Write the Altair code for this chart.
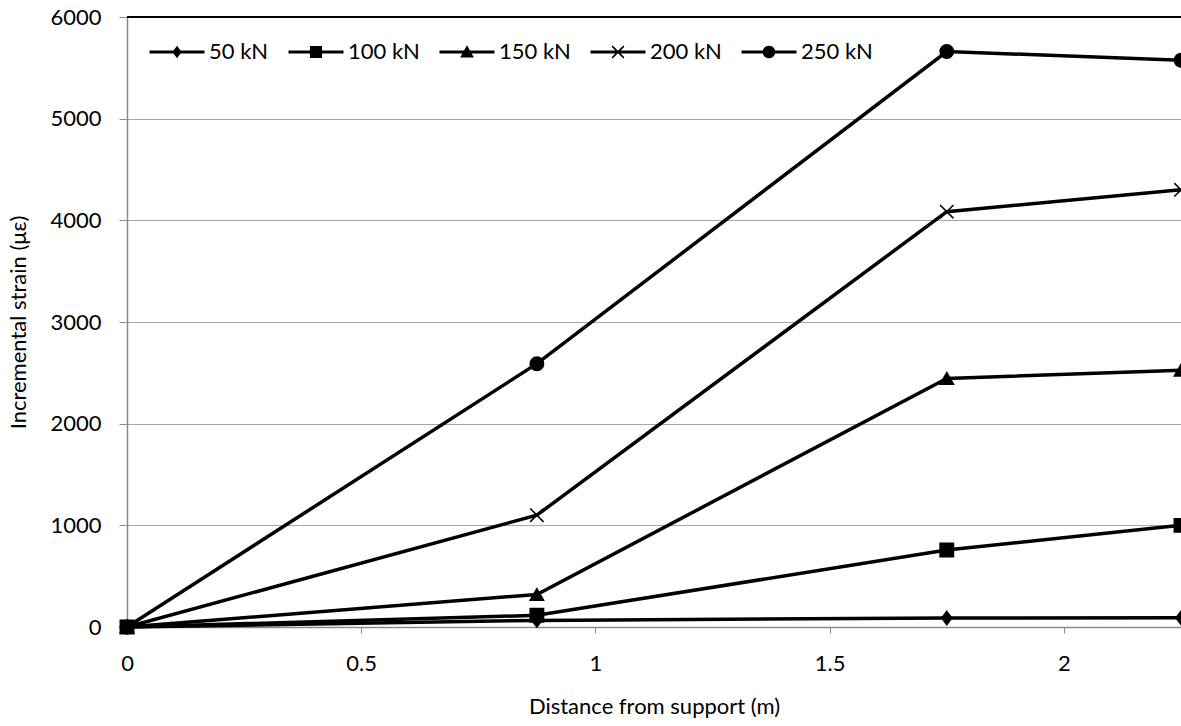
import altair as alt
import pandas as pd

# Measured strain increments along the beam for each load step
distance = [0, 0.875, 1.75, 2.25]
loads = ["50 kN", "100 kN", "150 kN", "200 kN", "250 kN"]
strain_50 = [0, 65, 88, 90]
strain_100 = [0, 115, 757, 1000]
strain_150 = [0, 320, 2445, 2525]
strain_200 = [0, 1100, 4085, 4300]
strain_250 = [0, 2590, 5660, 5575]

series = [strain_50, strain_100, strain_150, strain_200, strain_250]
rows = []
for load, vals in zip(loads, series):
    for d, v in zip(distance, vals):
        rows.append({"distance": d, "strain": v, "load": load, "key": load})
df = pd.DataFrame(rows)

FONT = "Lato"
FS = 22
W, H = 1054, 610
GREY = "#8a8a8a"

# Chart markers (unit paths / built-ins, size = area)
marker_shapes = [
    "M0,-1L0.75,0L0,1L-0.75,0Z",
    "square",
    "triangle-up",
    "M-1,-1L1,1M-1,1L1,-1",
    "circle",
]

# Legend glyphs: a short line with the marker in its middle, built from
# filled sub-paths that all run clockwise so overlaps stay solid.
LEG = 3025  # glyph area -> 55 px wide
bar = "M-1,-0.055L1,-0.055L1,0.055L-1,0.055Z"
cross = ("M-0.191,-0.233L0.233,0.191L0.191,0.233L-0.233,-0.191Z"
         "M-0.233,0.191L0.191,-0.233L0.233,-0.191L-0.191,0.233Z")
legend_glyphs = [
    bar + "M0,-0.23L0.17,0L0,0.23L-0.17,0Z",
    bar + "M-0.22,-0.22L0.22,-0.22L0.22,0.22L-0.22,0.22Z",
    bar + "M0,-0.25L0.25,0.2L-0.25,0.2Z",
    bar + cross,
    bar + "M0.23,0A0.23,0.23,0,1,1,-0.23,0A0.23,0.23,0,1,1,0.23,0Z",
]

x_enc = alt.X(
    "distance:Q",
    scale=alt.Scale(domain=[0, 2.25], nice=False, zero=False),
    axis=alt.Axis(
        values=[0, 0.5, 1, 1.5, 2],
        format="~g",
        title="Distance from support (m)",
        grid=False,
        domainColor=GREY,
        domainWidth=1.5,
        tickColor=GREY,
        tickSize=6,
        labelPadding=20,
        titlePadding=22,
        labelFlush=False,
    ),
)
y_enc = alt.Y(
    "strain:Q",
    scale=alt.Scale(domain=[0, 6000], nice=False),
    axis=alt.Axis(
        values=[0, 1000, 2000, 3000, 4000, 5000, 6000],
        format="d",
        title="Incremental strain (με)",
        grid=True,
        gridColor="#a6a6a6",
        gridWidth=1,
        domainColor=GREY,
        domainWidth=1.5,
        tickColor=GREY,
        tickSize=8,
        labelPadding=18,
        titlePadding=19,
    ),
)

lines = alt.Chart(df).mark_line(color="black", strokeWidth=3.5).encode(
    x=x_enc,
    y=y_enc,
    detail="load:N",
)

points = alt.Chart(df).mark_point(
    filled=True, color="black", stroke="black", strokeWidth=1.5, opacity=1, size=180
).encode(
    x="distance:Q",
    y="strain:Q",
    shape=alt.Shape("load:N", scale=alt.Scale(domain=loads, range=marker_shapes), legend=None),
)

# Zero-size marks that only carry the legend with line-and-marker glyphs
legend_carrier = alt.Chart(df).mark_point(
    filled=True, color="black", size=0
).encode(
    x="distance:Q",
    y="strain:Q",
    shape=alt.Shape(
        "key:N",
        scale=alt.Scale(domain=loads, range=legend_glyphs),
        legend=alt.Legend(
            title=None,
            orient="none",
            direction="horizontal",
            legendX=22,
            legendY=7,
            symbolSize=LEG,
            symbolFillColor="black",
            symbolStrokeColor="black",
            symbolStrokeWidth=1,
            symbolOpacity=1,
            labelFont=FONT,
            labelFontSize=FS,
            labelColor="black",
            labelOffset=4,
            columnPadding=17,
            padding=0,
        ),
    ),
)

top_border = alt.Chart(df).mark_rule(color="black", strokeWidth=2).encode(
    x=alt.value(0), x2=alt.value(W), y=alt.value(0)
)

chart = (
    alt.layer(lines, points, legend_carrier, top_border)
    .resolve_scale(shape="independent")
    .properties(
        width=W,
        height=H,
        background="white",
        autosize=alt.AutoSizeParams(type="none"),
        padding={"left": 127, "top": 17, "right": 0, "bottom": 99},
    )
    .configure_view(stroke=None)
    .configure_axis(
        labelFont=FONT,
        titleFont=FONT,
        labelFontSize=FS,
        titleFontSize=FS,
        titleFontWeight="normal",
        labelColor="black",
        titleColor="black",
    )
)

chart.save("out.html", embed_options={"renderer": "svg", "actions": False})
